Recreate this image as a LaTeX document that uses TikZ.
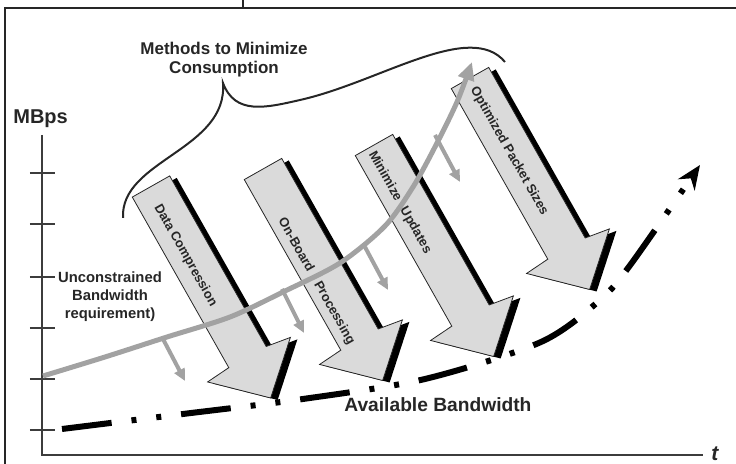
\documentclass[tikz,border=0pt]{standalone}
\usepackage{fontspec}
\setmainfont{Liberation Sans}
\usetikzlibrary{arrows.meta}

\definecolor{ink}{HTML}{262626}
\definecolor{needgray}{HTML}{A2A2A2}
\definecolor{boxgray}{HTML}{DADADA}

\tikzset{
  pics/bandarrow/.style={code={
    \path[#1] (0,-21.5) -- (196,-21.5) -- (200,-47) -- (243,0) -- (198,47) -- (196,21.5) -- (0,21.5) -- cycle;
  }},
  boxarrow/.style={fill=boxgray,draw=ink,line width=0.4pt},
  boxshadow/.style={fill=black},
  armtext/.style={font=\fontsize{6.5}{7}\selectfont\bfseries,text=ink,inner sep=0pt},
  frame/.style={ink,line width=0.9pt},
  axis/.style={ink!90,line width=1.2pt},
  tick/.style={ink!90,line width=0.7pt},
  brace/.style={ink,line width=1pt},
  need/.style={needgray,line width=2.5pt,-{Triangle[length=9pt,width=8pt]}},
  cutback/.style={needgray,line width=2pt,-{Triangle[length=6pt,width=5.5pt]}},
  avail/.style={black,line width=3pt,dash pattern=on 25pt off 10pt on 2.5pt off 10pt on 2.5pt off 10pt,-{Stealth[length=12pt,width=10pt]}},
}

\begin{document}
\begin{tikzpicture}[x=0.5pt,y=-0.5pt]
\useasboundingbox (0,0) rectangle (736,464);
% border of the panel
\draw[frame](5,464)--(5,8)--(736,8);
\draw[frame](243,0)--(243,8);
% axes
\draw[axis](42,135)--(42,455)--(703,455);
\foreach \y in {173,224,277,328,379,430}{\draw[tick](30,\y)--(55,\y);}
% brace over the four methods
\draw[brace](123,218) .. controls (120,160) and (228,150) .. (223,83)
  .. controls (235,115) and (265,108) .. (300,100)
  .. controls (380,82) and (470,20) .. (505,62);
% the four methods
\foreach \x/\y/\along/\across/\txt [count=\i] in {
  151/186.5/19/4/Data Compression,
  263/169/52/9/On-Board\hspace{6.5pt}Processing,
  374/145/5/6/Minimize\hspace{4.5pt}Updates,
  470/78/10/2/Optimized Packet Sizes}{
  \pic[rotate=-60.5] at ({\x+7},{\y+2}) {bandarrow=boxshadow};
  \pic[rotate=-60.5] at (\x,\y) {bandarrow=boxarrow};
  \begin{scope}[shift={(\x,\y)},rotate=-60.5]
    \node[armtext,rotate=-60.5,anchor=west] (arm\i) at (\along,\across) {\txt};
  \end{scope}
}
% unconstrained need
\draw[need] plot[smooth] coordinates {(43,376) (105,357) (167,337) (230,317) (283,292)
  (340,263) (385,226) (413,187) (436,145) (457,102) (472,62)};
\foreach \a/\b/\c/\d in {163/339/185/381,282/289/304/333,365/247/388/290,435/135/460/182}
  {\draw[cutback](\a,\b)--(\c,\d);}
% available bandwidth
\draw[avail] plot[smooth] coordinates {(62,429) (183,414) (303,399) (425,379) (541,342)
  (600,300) (631,264) (700,165)};
% labels
\node[inner sep=0pt,align=center,text=ink,font=\fontsize{8.5}{9.5}\selectfont\bfseries] (methods) at (224,60) {Methods to Minimize\\Consumption};
\node[inner sep=0pt,anchor=base west,text=ink,font=\fontsize{10}{12}\selectfont\bfseries] (mbps) at (13,124) {MBps};
\node[inner sep=0pt,align=center,text=ink,font=\fontsize{7.4}{9}\selectfont\bfseries] (unconstrained) at (110,297) {Unconstrained\\Bandwidth\\requirement)};
\node[inner sep=0pt,anchor=base west,text=ink,font=\fontsize{9.6}{11}\selectfont\bfseries] (available) at (344,412) {Available Bandwidth};
\node[inner sep=0pt,anchor=base west,text=ink,font=\fontsize{10.5}{12}\selectfont\bfseries\itshape] (time) at (711,461) {t};
\end{tikzpicture}
\end{document}
